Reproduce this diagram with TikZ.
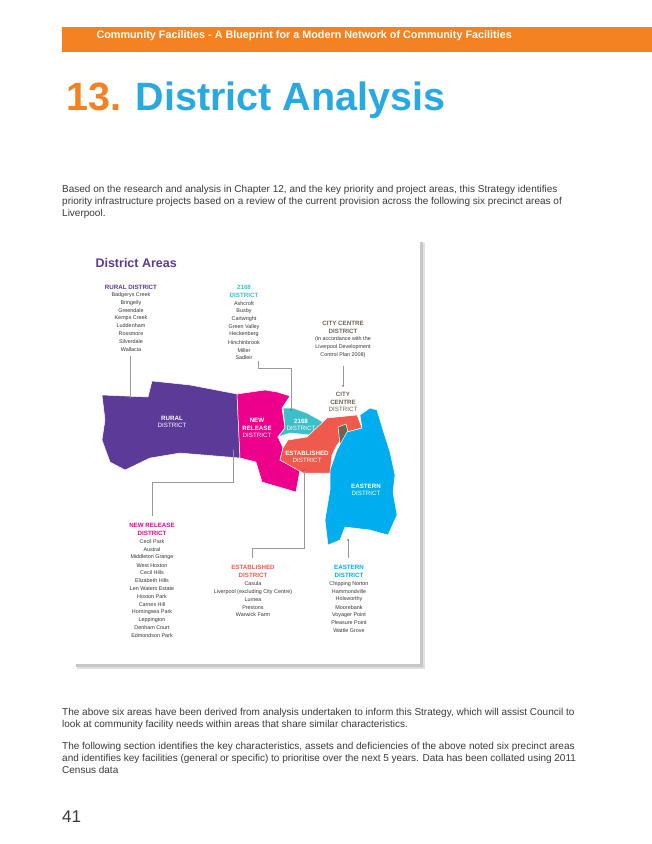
\documentclass[tikz,border=0pt]{standalone}
\usepackage{fontspec}
\setmainfont{Liberation Sans}
\usetikzlibrary{positioning, arrows.meta}
\definecolor{BarOrange}{HTML}{F58220}
\definecolor{TitleBlue}{HTML}{29A9E1}
\definecolor{BodyGray}{HTML}{3A3A3A}
\definecolor{RuralPurple}{HTML}{5B3A98}
\definecolor{ReleasePink}{HTML}{EC008C}
\definecolor{TealTwo}{HTML}{3DBFC9}
\definecolor{EstRed}{HTML}{EF5A4C}
\definecolor{EastBlue}{HTML}{00AEEF}
\definecolor{CityGray}{HTML}{6D6552}
\tikzset{
  body/.style={anchor=base west, font=\fontsize{10}{11}\selectfont, text=BodyGray, inner sep=0pt},
  head/.style={font=\bfseries\fontsize{6.2}{7.8}\selectfont, align=center, inner sep=0pt},
  item/.style={font=\fontsize{5.4}{7.8}\selectfont, text=black!80, inner sep=0pt},
  maplbl/.style={font=\fontsize{6.2}{7.4}\selectfont, align=center, text=white, inner sep=0pt},
  area/.style={draw=white, line width=0.5pt},
  leader/.style={draw=gray!80, line width=0.5pt}
}
\begin{document}
\begin{tikzpicture}[x=1pt, y=-1pt]
\useasboundingbox[fill=white] (0,0) rectangle (652,844);
% header bar and title
\fill[BarOrange] (62,27) rectangle (652,52);
\node[font=\bfseries\fontsize{10.8}{12}\selectfont, text=white, anchor=base west] (bar) at (93,38) {Community Facilities - A Blueprint for a Modern Network of Community Facilities};
\node[font=\bfseries\fontsize{39.5}{40}\selectfont, anchor=base west, inner sep=0pt] (title) at (66,110) {\textcolor{BarOrange}{13.} \textcolor{TitleBlue}{District Analysis}};
% body text
\node[body] (p1) at (62,192) {Based on the research and analysis in Chapter 12, and the key priority and project areas, this Strategy identifies};
\node[body] (p2) at (62,204) {priority infrastructure projects based on a review of the current provision across the following six precinct areas of};
\node[body] (p3) at (62,216) {Liverpool.};
% card
\fill[black!12] (77,243) rectangle (425,669);
\fill[black!22] (76,242) rectangle (423,667);
\fill[white] (75,240) rectangle (420,664);
\node[font=\bfseries\fontsize{12.5}{14}\selectfont, text=RuralPurple, anchor=base west] (areas) at (92,267) {District Areas};
% map
\fill[area, fill=RuralPurple] (102,395) -- (148,397) -- (152,381) -- (190,385) -- (237,394) -- (240,458) -- (180,453) -- (150,458) -- (125,470) -- (110,462) -- (102,440) -- (105,420) -- cycle;
\fill[area, fill=ReleasePink] (237,394) -- (265,390) -- (277,392) -- (290,396) -- (282,408) -- (285,428) -- (278,437) -- (283,448) -- (280,460) -- (300,470) -- (296,492) -- (262,482) -- (256,462) -- (240,458) -- cycle;
\fill[area, fill=TealTwo] (283,408) -- (293,408) -- (307,413) -- (323,422) -- (325,432) -- (310,435) -- (290,433) -- (278,437) -- (285,428) -- cycle;
\fill[area, fill=EstRed] (288,440) -- (307,437) -- (327,418) -- (357,415) -- (362,428) -- (347,432) -- (337,445) -- (332,455) -- (330,473) -- (303,473) -- (280,460) -- (283,448) -- cycle;
\fill[area, fill=CityGray] (338,427) -- (346,424) -- (350,440) -- (340,444) -- cycle;
\fill[area, fill=EastBlue] (360,415) -- (370,408) -- (377,410) -- (383,430) -- (390,452) -- (395,475) -- (393,492) -- (397,515) -- (388,535) -- (370,530) -- (345,527) -- (340,540) -- (328,545) -- (325,520) -- (330,490) -- (330,470) -- (337,450) -- (347,432) -- (362,428) -- cycle;
\node[maplbl] (mrural) at (172,422) {\textbf{RURAL}\\DISTRICT};
\node[maplbl] (mrelease) at (257,428) {\textbf{NEW}\\\textbf{RELEASE}\\DISTRICT};
\node[maplbl] (mteal) at (301,425) {\textbf{2168}\\DISTRICT};
\node[maplbl, text=CityGray] (mcity) at (343,402) {\textbf{CITY}\\\textbf{CENTRE}\\DISTRICT};
\node[maplbl] (mest) at (307,457) {\textbf{ESTABLISHED}\\DISTRICT};
\node[maplbl] (meast) at (366,490) {\textbf{EASTERN}\\DISTRICT};
% leaders
\coordinate (drural) at (130,398);
\coordinate (dteal) at (291,410);
\coordinate (dcity) at (343,386);
\coordinate (drelease) at (233,450);
\coordinate (dest) at (304,470);
\coordinate (deast) at (348,540);
\draw[leader] (130,356) -- (drural);
\draw[leader] (258,361) |- (291,368) -- (dteal);
\draw[leader] (343,366) -- (dcity);
\draw[leader] (drelease) |- (152,482) -- (152,516);
\draw[leader] (dest) |- (252,548) -- (252,558);
\draw[leader] (deast) -- (348,558);
\foreach \p in {drural,dteal,dcity,drelease,dest,deast} \fill[gray!80!black] (\p) circle (0.8);
% district lists
\node[head, text=RuralPurple] (hrural) at (131,287) {RURAL DISTRICT};
\foreach \t [count=\i] in {Badgerys Creek,Bringelly,Greendale,Kemps Creek,Luddenham,Rossmore,Silverdale,Wallacia}
  \node[item] at (131,287+7.8*\i) {\t};
\node[head, text=TealTwo] (hteal) at (244,291) {2168\\DISTRICT};
\foreach \t [count=\i] in {Ashcroft,Busby,Cartwright,Green Valley,Heckenberg,Hinchinbrook,Miller,Sadleir}
  \node[item] at (244,295.5+7.8*\i) {\t};
\node[head, text=CityGray] (hcity) at (343,327) {CITY CENTRE\\DISTRICT};
\node[item, align=center] (ccity) at (343,347) {(in accordance with the\\Liverpool Development\\Control Plan 2008)};
\node[head, text=ReleasePink] (hrelease) at (152,529) {NEW RELEASE\\DISTRICT};
\foreach \t [count=\i] in {Cecil Park,Austral,Middleton Grange,West Hoxton,Cecil Hills,Elizabeth Hills,Len Waters Estate,Hoxton Park,Carnes Hill,Horningsea Park,Leppington,Denham Court,Edmondson Park}
  \node[item] at (152,534+7.8*\i) {\t};
\node[head, text=EstRed] (hest) at (253,571) {ESTABLISHED\\DISTRICT};
\foreach \t [count=\i] in {Casula,Liverpool (excluding City Centre),Lurnea,Prestons,Warwick Farm}
  \node[item] at (253,576+7.8*\i) {\t};
\node[head, text=EastBlue] (heast) at (349,571) {EASTERN\\DISTRICT};
\foreach \t [count=\i] in {Chipping Norton,Hammondville,Holsworthy,Moorebank,Voyager Point,Pleasure Point,Wattle Grove}
  \node[item] at (349,576+7.8*\i) {\t};
% closing text
\node[body] (p4) at (62,715) {The above six areas have been derived from analysis undertaken to inform this Strategy, which will assist Council to};
\node[body] (p5) at (62,727) {look at community facility needs within areas that share similar characteristics.};
\node[body] (p6) at (62,749) {The following section identifies the key characteristics, assets and deficiencies of the above noted six precinct areas};
\node[body] (p7) at (62,761) {and identifies key facilities (general or specific) to prioritise over the next 5 years. Data has been collated using 2011};
\node[body] (p8) at (62,773) {Census data};
\node[body, font=\fontsize{17}{19}\selectfont] (page) at (62,822) {41};
\end{tikzpicture}
\end{document}
